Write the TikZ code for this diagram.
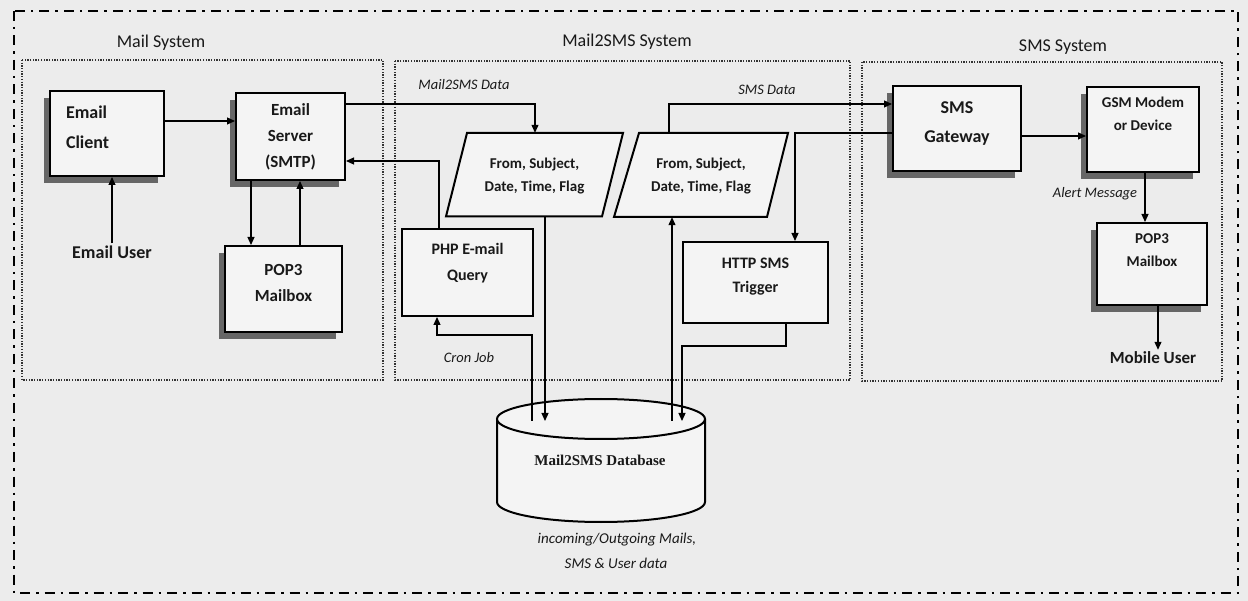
\documentclass[tikz,border=0pt]{standalone}
\usepackage{fontspec}
\setmainfont{Carlito}
\newfontfamily\dbfont{Liberation Serif}
\usetikzlibrary{arrows.meta,shapes.geometric,shadows}
\newcommand\liftbox[3]{\raisebox{#1}[\height][\depth]{\begin{tabular}{@{}#2@{}}#3\end{tabular}}}
\definecolor{bg}{RGB}{236,236,236}
\definecolor{boxfill}{RGB}{244,244,244}
\definecolor{ink}{RGB}{25,25,25}
\begin{document}
\begin{tikzpicture}[x=1pt,y=-1pt,
  every node/.style={text=ink},
  sysbox/.style={draw=black!80, line width=1.3pt, dash pattern=on 1.3pt off 1.4pt},
  shbox/.style={draw=black, line width=2pt, fill=boxfill, rectangle, inner sep=0pt,
    drop shadow={shadow xshift=-6pt, shadow yshift=-7pt, fill=black!60, opacity=1}},
  plainbox/.style={draw=black, line width=2pt, fill=boxfill, rectangle, inner sep=0pt},
  parashape/.style={draw=black, line width=2pt, fill=boxfill, line join=miter},
  paratext/.style={rectangle, inner sep=0pt, minimum width=177pt, minimum height=84pt,
    font=\fontsize{15}{23}\selectfont\bfseries},
  arr/.style={line width=1.2pt, -{Triangle[length=8pt,width=7pt]}},
  syslabel/.style={font=\fontsize{18}{20}\selectfont},
  flowlabel/.style={font=\fontsize{14.5}{16}\selectfont\itshape},
]
\useasboundingbox (0,0) rectangle (1248,601);
\fill[bg] (0,0) rectangle (1248,601);
% outer border
\draw[line width=2pt, dash pattern=on 10pt off 6pt on 2.5pt off 6pt] (14,11) rectangle (1238,593);
% system frames
\draw[sysbox] (22,60) rectangle (383,380);
\draw[sysbox] (395,61) rectangle (850,380);
\draw[sysbox] (862,62) rectangle (1222,381);
\node[syslabel] (lms) at (161,43) {Mail System};
\node[syslabel] (lm2) at (627,42) {Mail2SMS System};
\node[syslabel] (lss) at (1063,47) {SMS System};

% Mail system
\node[shbox, minimum width=114pt, minimum height=85pt, text width=82pt, align=left,
  font=\fontsize{18}{30}\selectfont\bfseries] (ec) at (107,133.5) {\liftbox{6pt}{l}{Email\\Client}};
\node[shbox, minimum width=109pt, minimum height=87pt,
  font=\fontsize{17}{26}\selectfont\bfseries] (es) at (290.5,136.5) {\liftbox{0pt}{c}{Email\\Server\\(SMTP)}};
\node[shbox, minimum width=117pt, minimum height=86pt,
  font=\fontsize{17}{26}\selectfont\bfseries] (pm) at (283.5,289) {\liftbox{6pt}{c}{POP3\\Mailbox}};
\node[font=\fontsize{18}{20}\selectfont\bfseries, inner sep=2pt] (eu) at (112,252) {Email User};

% Mail2SMS system: data parallelograms
\filldraw[parashape] (446,216.5) -- (467,133) -- (623,133) -- (602,216.5) -- cycle;
\node[paratext] (p1) at (534.5,175) {\liftbox{0pt}{c}{From, Subject,\\Date, Time, Flag}};
\filldraw[parashape] (614,217) -- (639,133) -- (788,133) -- (767,217) -- cycle;
\node[paratext] (p2) at (701,175) {\liftbox{0pt}{c}{From, Subject,\\Date, Time, Flag}};
\node[plainbox, minimum width=131pt, minimum height=87pt,
  font=\fontsize{16}{26}\selectfont\bfseries] (php) at (467.5,272.5) {\liftbox{10pt}{c}{PHP E-mail\\Query}};
\node[plainbox, minimum width=145pt, minimum height=81pt,
  font=\fontsize{16}{24}\selectfont\bfseries] (http) at (755.5,282.5) {\liftbox{7pt}{c}{HTTP SMS\\Trigger}};

% SMS system
\node[shbox, minimum width=128pt, minimum height=85pt,
  font=\fontsize{18}{29}\selectfont\bfseries] (sg) at (957,128.5) {\liftbox{6pt}{c}{SMS\\Gateway}};
\node[shbox, minimum width=112pt, minimum height=85pt,
  font=\fontsize{15}{23}\selectfont\bfseries] (gsm) at (1143,129.5) {\liftbox{15pt}{c}{GSM Modem\\or Device}};
\node[shbox, minimum width=110pt, minimum height=82pt,
  font=\fontsize{15}{23}\selectfont\bfseries] (ps) at (1152,264) {\liftbox{14pt}{c}{POP3\\Mailbox}};
\node[font=\fontsize{17}{20}\selectfont\bfseries, inner sep=2pt] (mu) at (1153,358) {Mobile User};

% database
\draw[line width=2pt, fill=boxfill] (497,419) -- (497,502)
  arc[start angle=180, end angle=360, x radius=104pt, y radius=20pt] -- (705,419);
\draw[line width=2pt, fill=boxfill] (601,419) ellipse [x radius=104pt, y radius=20pt];
\node[font=\dbfont\fontsize{15}{18}\selectfont\bfseries] (db) at (600,460) {Mail2SMS Database};
\coordinate (dbt) at (601,421);

% labels
\node[flowlabel] (lmsd) at (464,85) {Mail2SMS Data};
\node[flowlabel] (lsd) at (767,90) {SMS Data};
\node[flowlabel] (lcj) at (469,358) {Cron Job};
\node[flowlabel] (lam) at (1095,194) {Alert Message};
\node[flowlabel, font=\fontsize{15}{16}\selectfont\itshape] (lio) at (617,540) {incoming/Outgoing Mails,};
\node[flowlabel, font=\fontsize{15}{16}\selectfont\itshape] (lud) at (616,563) {SMS \& User data};

% connectors
\draw[arr] (ec.east |- 0,121) -- (es.west |- 0,121);
\draw[arr] (eu.north) -- (eu.north |- ec.south);
\draw[arr] (251,0 |- es.south) -- (251,0 |- pm.north);
\draw[arr] (300,0 |- pm.north) -- (300,0 |- es.south);
\draw[arr] (es.east |- 0,104) -| (535,0 |- p1.north);
\draw[arr] (439,0 |- php.north) |- (es.east |- 0,161);
\draw[arr] (545,0 |- p1.south) -- (545,0 |- dbt);
\draw[arr] (532,0 |- dbt) -- (532,335) -| (437,0 |- php.south);
\draw[arr] (672,0 |- dbt) -- (672,0 |- p2.south);
\draw[arr] (786,0 |- http.south) -- (786,346) -| (682,0 |- dbt);
\draw[arr] (669,0 |- p2.north) |- (sg.west |- 0,104);
\draw[arr] (sg.west |- 0,133) -| (795,0 |- http.north);
\draw[arr] (sg.east |- 0,136) -- (gsm.west |- 0,136);
\draw[arr] (1145,0 |- gsm.south) -- (1145,0 |- ps.north);
\draw[arr] (1158,0 |- ps.south) -- (1158,0 |- mu.north);
\end{tikzpicture}
\end{document}
